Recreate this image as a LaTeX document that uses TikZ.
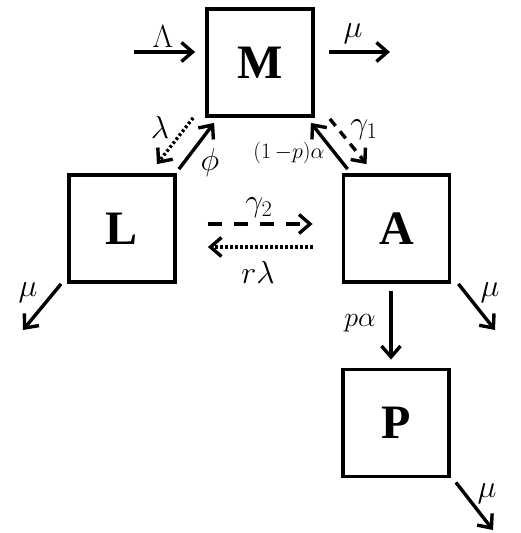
\RequirePackage{fix-cm}
\documentclass[tikz,border=0pt]{standalone}
\usepackage{fontspec}
\setmainfont{Liberation Serif}
\usetikzlibrary{arrows.meta,calc}
\begin{document}
\begin{tikzpicture}[x=1pt,y=-1pt,
  box/.style={draw,line width=3.8pt,minimum width=106pt,minimum height=107pt,inner sep=0pt,font=\fontsize{48}{48}\selectfont\bfseries},
  arr/.style={line width=3.4pt,-{Straight Barb[length=11pt,width=19pt]}},
  dsh/.style={arr,dash pattern=on 14pt off 12pt},
  dshb/.style={arr,dash pattern=on 9pt off 7pt},
  dot/.style={arr,dash pattern=on 2.6pt off 2.4pt},
  lab/.style={inner sep=0pt,font=\fontsize{32}{32}\selectfont},
  labm/.style={inner sep=0pt,font=\fontsize{28}{28}\selectfont},
  labs/.style={inner sep=0pt,font=\fontsize{22}{22}\selectfont}]
\useasboundingbox (0,0) rectangle (521,533);
\node[box] (M) at (260,62.5) {M};
\node[box] (L) at (122,228.5) {L};
\node[box] (A) at (396.5,228.5) {A};
\node[box] (P) at (396,423) {P};
\coordinate (lamIn) at (134,52);
\coordinate (muM) at (390,52);
\coordinate (muL) at (23,330);
\coordinate (muA) at (495,330);
\coordinate (muP) at (493,530);
% arrows
\draw[arr] (lamIn) -- ([shift={(-10,-10.5)}]M.west);
\draw[arr] ([shift={(14,-10.5)}]M.east) -- (muM);
\draw[dot] ([shift={(-12,0)}]M.south west) -- ([shift={(-20,-9)}]L.north east);
\draw[arr] ([shift={(2,-4)}]L.north east) -- ([shift={(9,5)}]M.south west);
\draw[arr] ([shift={(6,-4)}]A.north west) -- ([shift={(-4,5)}]M.south east);
\draw[dshb] ([shift={(15,1)}]M.south east) -- ([shift={(25,-9)}]A.north west);
\draw[dsh] ([shift={(31,-4.5)}]L.east) -- ([shift={(-29,-4.5)}]A.west);
\draw[dot] ([shift={(-29,18.5)}]A.west) -- ([shift={(31,18.5)}]L.east);
\draw[arr] ([shift={(-6,0)}]L.south west) -- (muL);
\draw[arr] ([shift={(7,0)}]A.south east) -- (muA);
\draw[arr] ([shift={(-5.5,7)}]A.south) -- ([shift={(-5,-8)}]P.north);
\draw[arr] ([shift={(5,4)}]P.south east) -- (muP);
% labels
\node[lab] (tLam) at (163,37) {$\Lambda$};
\node[lab] (tmuM) at (353,34) {$\mu$};
\node[lab] (tlam) at (160,127) {$\lambda$};
\node[lab] (tphi) at (210,162) {$\phi$};
\node[labs] (tpa1) at (289,153) {$(1\,{-}p)\alpha$};
\node[lab] (tg1) at (364,130) {$\gamma_1$};
\node[lab] (tg2) at (259,208) {$\gamma_2$};
\node[lab] (trl) at (258,272) {$r\lambda$};
\node[lab] (tmuL) at (28,293) {$\mu$};
\node[lab] (tmuA) at (490,293) {$\mu$};
\node[labm] (tpa) at (360,323) {$p\alpha$};
\node[lab] (tmuP) at (487,494) {$\mu$};
\end{tikzpicture}
\end{document}
